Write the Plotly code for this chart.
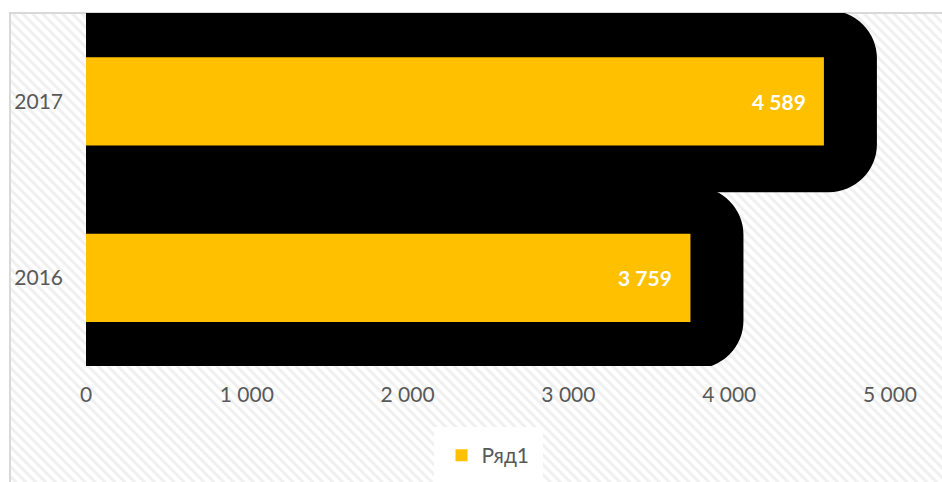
import urllib.parse
import plotly.graph_objects as go

years = ["2016", "2017"]
values = [3759, 4589]
x_ticks = [0, 1000, 2000, 3000, 4000, 5000]
series_name = "Ряд1"

BAR_COLOR = "#FFC000"
TEXT_GRAY = "#595959"
FONT = "Lato"

W, H = 942, 482
ML, MR, MT, MB = 86, 52, 13, 116
plot_w = W - ML - MR
plot_h = H - MT - MB
x_max = 5000

# the dark halo runs ~53 px beyond each bar end
halo = 53 * x_max / plot_w

def fmt(v):
    return f"{v:,}".replace(",", " ")

fig = go.Figure()

fig.add_trace(go.Bar(
    y=years, x=[v + halo for v in values], orientation="h",
    width=1.03, marker=dict(color="black", line=dict(width=0), cornerradius=48),
    showlegend=False, hoverinfo="skip",
))
fig.add_trace(go.Bar(
    y=years, x=values, orientation="h", name=series_name,
    width=0.5, marker=dict(color=BAR_COLOR, line=dict(width=0)),
))

# value labels, placed by category index
for i, v in enumerate(values):
    fig.add_annotation(
        x=v, y=i, xref="x", yref="y", text=f"<b>{fmt(v)}</b>",
        showarrow=False, xanchor="right", xshift=-16,
        font=dict(family=FONT, size=21, color="white"),
    )

# striped backdrop with a thin border for the chart frame
BW, BH = 940, 480
svg = (
    f"<svg xmlns='http://www.w3.org/2000/svg' width='{BW}' height='{BH}' "
    f"viewBox='0 0 {BW} {BH}' preserveAspectRatio='none'>"
    "<defs><pattern id='p' width='7' height='7' patternUnits='userSpaceOnUse' "
    "patternTransform='rotate(-45)'>"
    "<rect width='7' height='7' fill='#ffffff'/>"
    "<rect width='3' height='7' fill='#f0f0f0'/></pattern></defs>"
    f"<rect width='{BW}' height='{BH}' fill='url(#p)'/>"
    f"<path d='M1 {BH} L1 1 L{BW} 1' fill='none' stroke='#d9d9d9' stroke-width='2'/>"
    "</svg>"
)
src = "data:image/svg+xml;charset=utf-8," + urllib.parse.quote(svg)
fig.add_layout_image(
    source=src, xref="paper", yref="paper",
    x=(9 - ML) / plot_w, y=(H - MB - 12) / plot_h,
    sizex=BW / plot_w, sizey=BH / plot_h,
    xanchor="left", yanchor="top", sizing="stretch", layer="below",
)

fig.update_layout(
    width=W, height=H,
    margin=dict(l=ML, r=MR, t=MT, b=MB, autoexpand=False),
    paper_bgcolor="white", plot_bgcolor="white",
    barmode="overlay", separators=", ",
    font=dict(family=FONT, size=21, color=TEXT_GRAY),
    xaxis=dict(
        range=[0, x_max], tickvals=x_ticks, tickformat=",d",
        showgrid=False, zeroline=False, showline=False,
        ticks="", ticklabelstandoff=14,
        tickfont=dict(family=FONT, size=21, color=TEXT_GRAY),
    ),
    yaxis=dict(
        type="category", range=[-0.5, 1.5],
        showgrid=False, zeroline=False, showline=False,
        ticks="", ticklabelstandoff=22,
        tickfont=dict(family=FONT, size=21, color=TEXT_GRAY),
    ),
    legend=dict(
        orientation="h", x=0.5, xanchor="center",
        y=(H - MB - 427) / plot_h, yanchor="top",
        bgcolor="white", font=dict(family=FONT, size=21, color=TEXT_GRAY),
        borderwidth=8, bordercolor="white",
    ),
)

fig.write_html("out.html")
